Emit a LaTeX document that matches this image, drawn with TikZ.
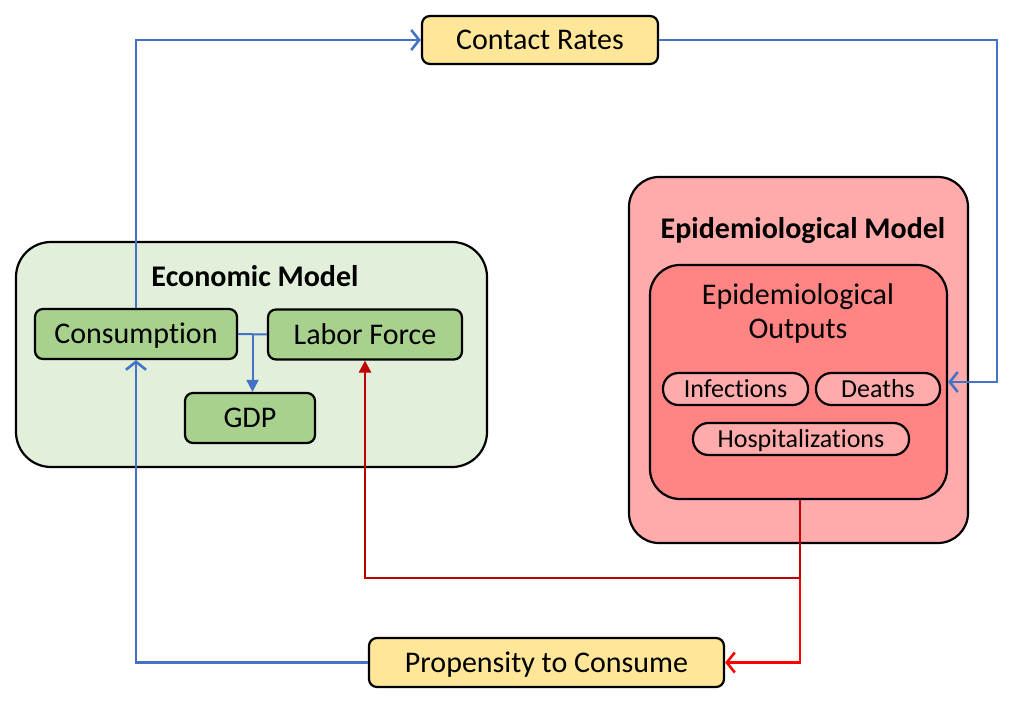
\documentclass[tikz,border=0pt]{standalone}
\usepackage{fontspec}
\setmainfont{Carlito}[Ligatures=CommonOff]
\usetikzlibrary{arrows.meta,calc}
\definecolor{ylw}{HTML}{FFE699}
\definecolor{grnlt}{HTML}{E2EFDA}
\definecolor{grn}{HTML}{A9D18E}
\definecolor{pinklt}{HTML}{FFABAB}
\definecolor{pinkmd}{HTML}{FF8585}
\definecolor{bl}{HTML}{4472C4}
\definecolor{dred}{HTML}{C00000}
\definecolor{bred}{HTML}{FF0000}
\tikzset{
  base/.style={draw=black, line width=2.2pt, inner sep=0pt, font=\fontsize{30}{34}\selectfont},
  capc/.style={text height=19.3pt, text depth=0pt},
  ybox/.style={base, capc, fill=ylw, rounded corners=8pt},
  gbox/.style={base, capc, fill=grn, rounded corners=8pt},
  pill/.style={base, fill=pinklt, rounded corners=15.5pt, minimum height=32pt, text height=16.6pt, text depth=0pt, font=\fontsize{26}{30}\selectfont},
  title/.style={font=\bfseries\fontsize{30}{34}\selectfont, inner sep=0pt, capc},
  bline/.style={draw=bl, line width=2.6pt},
  openarr/.style={-{Straight Barb[length=8pt,width=20pt,line width=2.6pt]}},
  filarr/.style={-{Triangle[length=12pt,width=12pt]}}
}
\begin{document}
\begin{tikzpicture}[x=1pt,y=-1pt]
\useasboundingbox (0,0) rectangle (1013,703);
% containers
\node[base, fill=grnlt, rounded corners=35pt, minimum width=471pt, minimum height=225pt] (em) at (251.5,354.5) {};
\node[title] (emt) at (255,277) {Economic Model};
\node[base, fill=pinklt, rounded corners=30pt, minimum width=339pt, minimum height=366pt] (epm) at (798.5,360) {};
\node[title] (epmt) at (803,229) {Epidemiological Model};
\node[base, fill=pinkmd, rounded corners=30pt, minimum width=297pt, minimum height=234pt] (eo) at (798.5,382) {};
\node[font=\fontsize{30}{34}\selectfont, align=center, inner sep=0pt] (eot) at (798,314) {Epidemiological\\Outputs};
% nodes
\node[ybox, minimum width=236pt, minimum height=48pt] (cr) at (540,40) {Contact Rates};
\node[ybox, minimum width=355pt, minimum height=49pt] (pc) at (546.5,662.5) {Propensity to Consume};
\node[gbox, minimum width=202pt, minimum height=50pt] (cons) at (136,334) {Consumption};
\node[gbox, minimum width=194pt, minimum height=50pt] (lf) at (365,334.5) {Labor Force};
\node[gbox, minimum width=130pt, minimum height=50pt] (gdp) at (250,418) {GDP};
\node[pill, minimum width=145pt] (inf) at (735.5,389) {Infections};
\node[pill, minimum width=124pt] (dth) at (878,389) {Deaths};
\node[pill, minimum width=216pt] (hos) at (801,439) {Hospitalizations};
% connectors
\coordinate (tr) at (997,40);
\coordinate (jn) at (800,578);
\coordinate (br) at ($(cons.east)!0.5!(lf.west)$);
\draw[bline, openarr] (cons.north) |- (cr.west);
\draw[bline, openarr] (cr.east) -- (tr) |- (eo.east);
\draw[bline, openarr] (pc.west) -| (cons.south);
\draw[draw=bl, line width=2pt] (cons.east) -- (lf.west);
\draw[draw=bl, line width=2pt, filarr] (br) -- (br |- gdp.north);
\draw[draw=bred, line width=2.6pt, openarr] (jn) |- (pc.east);
\draw[draw=dred, line width=2.6pt, filarr] (eo.south -| jn) -- (jn) -| (lf.south);
\end{tikzpicture}
\end{document}
